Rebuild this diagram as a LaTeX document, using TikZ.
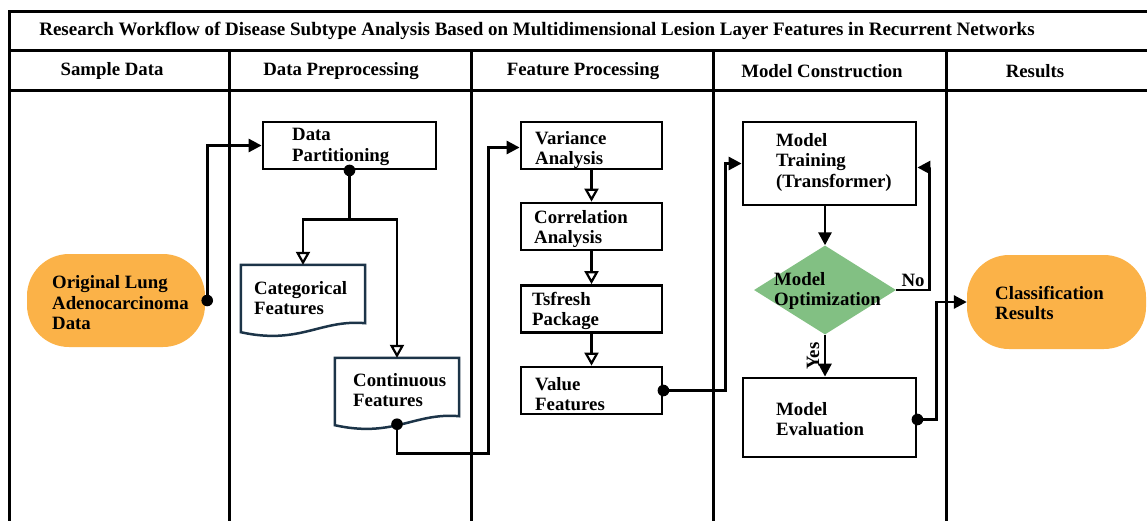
\documentclass[tikz,border=0pt]{standalone}
\usepackage{fontspec}
\setmainfont{Liberation Serif}
\usetikzlibrary{arrows.meta,calc,shapes.geometric}
\definecolor{orangefill}{RGB}{251,178,72}
\definecolor{greenfill}{RGB}{130,192,131}
\definecolor{docline}{RGB}{28,52,72}
\tikzset{
  frame/.style={line width=3pt, line cap=rect},
  box/.style={draw, line width=2.8pt, rectangle, inner sep=0pt},
  docbox/.style={rectangle, inner sep=0pt},
  docedge/.style={draw=docline, line width=2.5pt, line join=miter},
  stadium/.style={fill=orangefill, draw=none, rectangle, rounded corners=42pt, inner sep=0pt},
  txt/.style={anchor=west, align=left, inner sep=0pt, font=\fontsize{18.8}{20.5}\selectfont\bfseries},
  hdr/.style={inner sep=0pt, font=\fontsize{18.8}{20.5}\selectfont\bfseries},
  conn/.style={line width=2.8pt},
  farrow/.style={-{Triangle[length=13pt,width=13pt]}},
  oarrow/.style={-{Triangle[open,length=13pt,width=14pt,line width=2.2pt]}},
  dot/.style={fill=black},
}
\newcommand\docpath[1]{%
  \draw[docedge] (#1.north west) -- (#1.north east) -- ($(#1.south east)+(0,-8)$)
    .. controls ($(#1.south east)+(-45,-12)$) and ($(#1.south west)+(59,14)$) ..
    ($(#1.south west)+(0,1)$) -- cycle;}
\begin{document}
\begin{tikzpicture}[x=1pt,y=-1pt]
\useasboundingbox (0,0) rectangle (1147,520);
% frame
\draw[frame] (9,520) -- (9,11) -- (1147,11);
\draw[frame] (9,50) -- (1147,50);
\draw[frame] (9,90) -- (1147,90);
\foreach \x in {229,471,713,946} \draw[frame] (\x,50) -- (\x,520);
% titles
\node[hdr, font=\fontsize{19}{21}\selectfont\bfseries] (title) at (537,31) {Research Workflow of Disease Subtype Analysis Based on Multidimensional Lesion Layer Features in Recurrent Networks};
\node[hdr] (h1) at (112,71) {Sample Data};
\node[hdr] (h2) at (341,71) {Data Preprocessing};
\node[hdr] (h3) at (583,71) {Feature Processing};
\node[hdr] (h4) at (822,71) {Model Construction};
\node[hdr] (h5) at (1035,71) {Results};
% nodes
\node[stadium, minimum width=178pt, minimum height=93pt] (orig) at (116,300.5) {};
\node[txt] (origt) at (52,303) {Original Lung\\Adenocarcinoma\\Data};
\node[box, minimum width=173pt, minimum height=47pt] (dp) at (349.5,145.5) {};
\node[txt] (dpt) at (292,147) {Data\\Partitioning};
\node[docbox, minimum width=124pt, minimum height=66pt] (cat) at (303,298) {};
\docpath{cat}
\node[txt] (catt) at (254,298) {Categorical\\Features};
\node[docbox, minimum width=124pt, minimum height=66pt] (cont) at (397,391) {};
\docpath{cont}
\node[txt] (contt) at (353,390) {Continuous\\Features};
\node[box, minimum width=141pt, minimum height=47pt] (var) at (591.5,145.5) {};
\node[txt] (vart) at (535,150) {Variance\\Analysis};
\node[box, minimum width=141pt, minimum height=47pt] (cor) at (591.5,226.5) {};
\node[txt] (cort) at (534,229) {Correlation\\Analysis};
\node[box, minimum width=141pt, minimum height=47pt] (tsf) at (591.5,309) {};
\node[txt] (tsft) at (532,311) {Tsfresh\\Package};
\node[box, minimum width=141pt, minimum height=47pt] (val) at (591.5,390.5) {};
\node[txt] (valt) at (535,394) {Value\\Features};
\node[box, minimum width=173pt, minimum height=83pt] (mt) at (829.5,163.5) {};
\node[txt] (mtt) at (776,162) {Model\\Training\\(Transformer)};
\node[diamond, fill=greenfill, draw=none, minimum width=142pt, minimum height=89pt, inner sep=0pt] (opt) at (825,290) {};
\node[txt] (optt) at (774,291) {Model\\Optimization};
\node[box, minimum width=173pt, minimum height=79pt] (ev) at (829.5,417.5) {};
\node[txt] (evt) at (776,419) {Model\\Evaluation};
\node[stadium, minimum width=179pt, minimum height=94pt] (cls) at (1056.5,302) {};
\node[txt] (clst) at (995,303) {Classification\\Results};
% connectors
\draw[conn, farrow] ($(orig.east)+(2,0)$) |- (dp.west);
\fill[dot] ($(orig.east)+(2,0)$) circle (5.8);
\draw[conn] (dp.south) -- ++(0,49) coordinate (split);
\fill[dot] (dp.south) circle (5.8);
\draw[conn, oarrow] (split) -| (cat.north);
\draw[conn, oarrow] (split) -| (cont.north);
\draw[conn, farrow] (cont.south) -- ++(0,29) -| ($(var.west)+(-31,2)$) -- ($(var.west)+(0,2)$);
\fill[dot] (cont.south) circle (5.8);
\draw[conn, oarrow] (var.south) -- (cor.north);
\draw[conn, oarrow] (cor.south) -- (tsf.north);
\draw[conn, oarrow] (tsf.south) -- (val.north);
\draw[conn, farrow] (val.east) -| ($(mt.west)+(-16,0)$) -- (mt.west);
\fill[dot] (val.east) circle (5.8);
\draw[conn, farrow] (opt.north |- mt.south) -- (opt.north);
\draw[conn, farrow] (opt.east) -- ++(33,0) |- ($(mt.east)+(0,4)$);
\node[hdr, anchor=south] (no) at (913,287) {No};
\draw[conn, farrow] (opt.south) -- (opt.south |- ev.north);
\node[hdr, rotate=90] (yes) at (813,356) {Yes};
\draw[conn, farrow] ($(ev.east)+(0,2)$) -- ++(19,0) |- (cls.west);
\fill[dot] ($(ev.east)+(0,2)$) circle (5.8);
\end{tikzpicture}
\end{document}
